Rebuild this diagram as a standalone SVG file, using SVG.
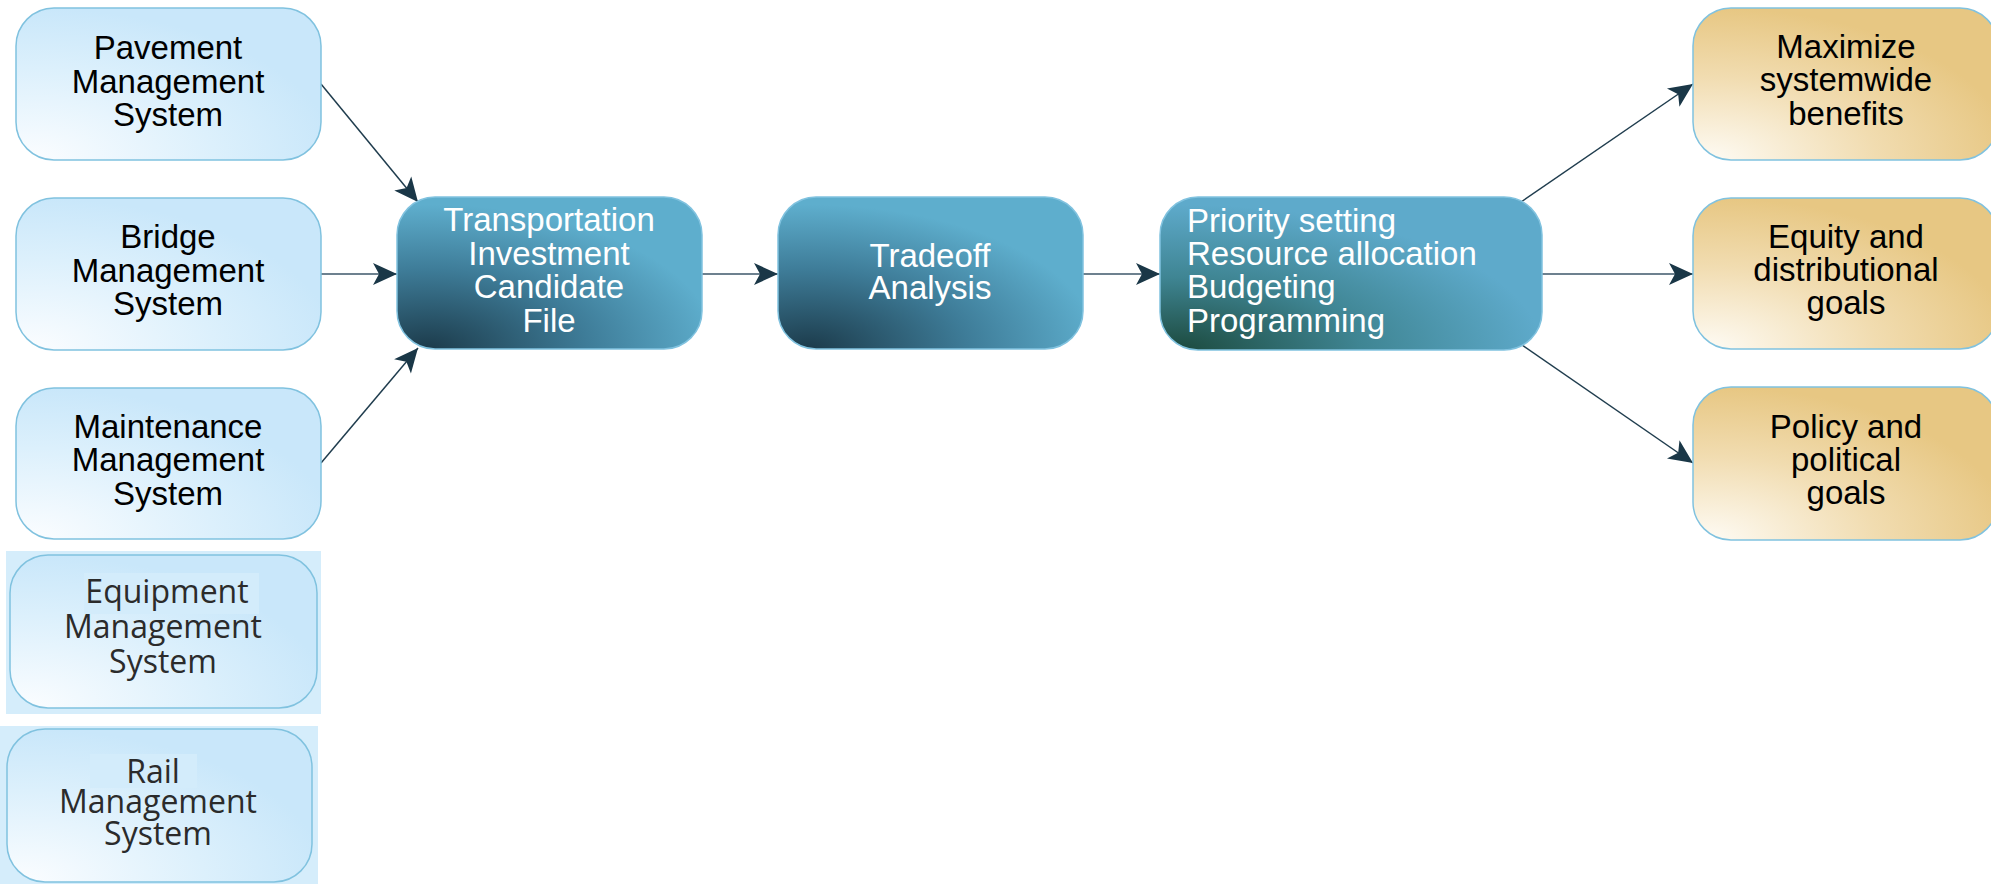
<svg xmlns="http://www.w3.org/2000/svg" width="1991" height="884" viewBox="0 0 1991 884">
<defs>
<style>
.t{font-family:"Liberation Sans",Arial,sans-serif;font-size:33px;text-anchor:middle;fill:#000}
.w{fill:#fff}
.e{font-family:"Open Sans","Noto Sans",sans-serif;font-size:32px;text-anchor:middle;fill:#2b2b2b}
.bx{stroke:#80c2df;stroke-width:1.5}
.h{stroke:#6d818f;stroke-width:2;fill:none}
.d{stroke:#203d4e;stroke-width:1.5;fill:none}
</style>
<radialGradient id="gL" cx="0.05" cy="1" r="1">
<stop offset="0" stop-color="#fbfdff"/>
<stop offset="0.6" stop-color="#dcf0fc"/>
<stop offset="1" stop-color="#c9e7fa"/>
</radialGradient>
<radialGradient id="gD" cx="0.1" cy="1" r="0.95">
<stop offset="0" stop-color="#1c3b4b"/>
<stop offset="0.55" stop-color="#3e7c98"/>
<stop offset="1" stop-color="#5eaecd"/>
</radialGradient>
<radialGradient id="gP" cx="0.05" cy="1" r="0.95">
<stop offset="0" stop-color="#1c4a3e"/>
<stop offset="0.5" stop-color="#3f8593"/>
<stop offset="1" stop-color="#5eaacb"/>
</radialGradient>
<radialGradient id="gG" cx="0.05" cy="1" r="1">
<stop offset="0" stop-color="#fefbf4"/>
<stop offset="0.55" stop-color="#f1dcb0"/>
<stop offset="1" stop-color="#e7c783"/>
</radialGradient>
<marker id="ar" markerUnits="userSpaceOnUse" markerWidth="30" markerHeight="26" viewBox="-25 -13 30 26" refX="0" refY="0" orient="auto">
<path d="M0,0 L-24,-11 L-18,0 L-24,11 Z" fill="#1a3747"/>
</marker>
</defs>
<rect width="1991" height="884" fill="#fff"/>

<g id="connectors">
<line class="d" x1="321" y1="84" x2="418" y2="202" marker-end="url(#ar)"/>
<line class="h" x1="321" y1="274" x2="397" y2="274" marker-end="url(#ar)"/>
<line class="d" x1="321" y1="463" x2="418" y2="348" marker-end="url(#ar)"/>
<line class="h" x1="702" y1="274" x2="778" y2="274" marker-end="url(#ar)"/>
<line class="h" x1="1083" y1="274" x2="1160" y2="274" marker-end="url(#ar)"/>
<line class="d" x1="1521" y1="202" x2="1693" y2="84" marker-end="url(#ar)"/>
<line class="h" x1="1541" y1="274" x2="1693" y2="274" marker-end="url(#ar)"/>
<line class="d" x1="1522" y1="345" x2="1693" y2="463" marker-end="url(#ar)"/>
<line class="d" x1="317" y1="632" x2="320" y2="632"/>
<line class="d" x1="312" y1="805" x2="315" y2="805"/>
</g>

<g id="pavement">
<rect class="bx" x="16" y="8" width="305" height="152" rx="38" fill="url(#gL)"/>
<text class="t" x="168" y="59">Pavement</text>
<text class="t" x="168" y="93">Management</text>
<text class="t" x="168" y="126">System</text>
</g>
<g id="bridge">
<rect class="bx" x="16" y="198" width="305" height="152" rx="38" fill="url(#gL)"/>
<text class="t" x="168" y="248">Bridge</text>
<text class="t" x="168" y="282">Management</text>
<text class="t" x="168" y="315">System</text>
</g>
<g id="maintenance">
<rect class="bx" x="16" y="388" width="305" height="151" rx="38" fill="url(#gL)"/>
<text class="t" x="168" y="438">Maintenance</text>
<text class="t" x="168" y="471">Management</text>
<text class="t" x="168" y="505">System</text>
</g>
<g id="equipment">
<rect x="6" y="551" width="315" height="163" fill="#d5edfb"/>
<rect class="bx" x="10" y="555" width="307" height="153" rx="38" fill="url(#gL)"/>
<rect x="84" y="573" width="175" height="41" fill="#d3ecfb"/>
<text class="e" x="167" y="603">Equipment</text>
<text class="e" x="163" y="638">Management</text>
<text class="e" x="163" y="673">System</text>
</g>
<g id="rail">
<rect x="0" y="726" width="318" height="158" fill="#d5edfb"/>
<rect class="bx" x="7" y="729" width="305" height="153" rx="38" fill="url(#gL)"/>
<rect x="90" y="754" width="107" height="34" fill="#d3ecfb"/>
<text class="e" x="153" y="783">Rail</text>
<text class="e" x="158" y="813">Management</text>
<text class="e" x="158" y="845">System</text>
</g>
<g id="transportation">
<rect class="bx" x="397" y="197" width="305" height="152" rx="38" fill="url(#gD)"/>
<text class="t w" x="549" y="231">Transportation</text>
<text class="t w" x="549" y="265">Investment</text>
<text class="t w" x="549" y="298">Candidate</text>
<text class="t w" x="549" y="332">File</text>
</g>
<g id="tradeoff">
<rect class="bx" x="778" y="197" width="305" height="152" rx="38" fill="url(#gD)"/>
<text class="t w" x="930" y="267">Tradeoff</text>
<text class="t w" x="930" y="299">Analysis</text>
</g>
<g id="priority">
<rect class="bx" x="1160" y="197" width="382" height="153" rx="38" fill="url(#gP)"/>
<text class="t w" x="1187" y="232" style="text-anchor:start">Priority setting</text>
<text class="t w" x="1187" y="265" style="text-anchor:start">Resource allocation</text>
<text class="t w" x="1187" y="298" style="text-anchor:start">Budgeting</text>
<text class="t w" x="1187" y="332" style="text-anchor:start">Programming</text>
</g>
<g id="maximize">
<rect class="bx" x="1693" y="8" width="305" height="152" rx="38" fill="url(#gG)"/>
<text class="t" x="1846" y="58">Maximize</text>
<text class="t" x="1846" y="91">systemwide</text>
<text class="t" x="1846" y="125">benefits</text>
</g>
<g id="equity">
<rect class="bx" x="1693" y="198" width="305" height="151" rx="38" fill="url(#gG)"/>
<text class="t" x="1846" y="248">Equity and</text>
<text class="t" x="1846" y="281">distributional</text>
<text class="t" x="1846" y="314">goals</text>
</g>
<g id="policy">
<rect class="bx" x="1693" y="387" width="305" height="153" rx="38" fill="url(#gG)"/>
<text class="t" x="1846" y="438">Policy and</text>
<text class="t" x="1846" y="471">political</text>
<text class="t" x="1846" y="504">goals</text>
</g>
</svg>
